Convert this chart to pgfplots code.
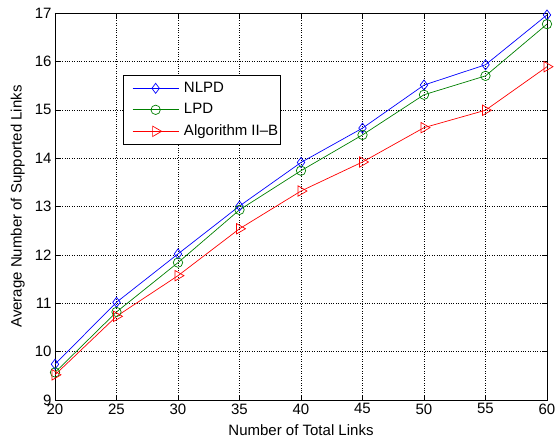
\documentclass[border=0pt]{standalone}
\usepackage{fontspec}
\setmainfont{Liberation Sans}
\usepackage{pgfplots}
\pgfplotsset{compat=1.18}
\definecolor{mblue}{rgb}{0,0,1}
\definecolor{mgreen}{rgb}{0,0.5,0}
\definecolor{mred}{rgb}{1,0,0}
\newcommand{\fs}{\fontsize{15}{18}\selectfont}
\begin{document}
\begin{tikzpicture}
\begin{axis}[
  scale only axis,
  width=492pt, height=387pt,
  xmin=20, xmax=60, ymin=9, ymax=17,
  xtick={20,25,...,60}, ytick={9,...,17},
  grid=major,
  major grid style={black, dotted, line width=0.5pt},
  tick align=inside,
  tick style={black, line width=0.5pt},
  major tick length=5pt,
  axis line style={black, line width=0.8pt},
  xlabel={Number of Total Links},
  ylabel={Average Number of Supported Links},
  tick label style={font=\fs},
  label style={font=\fs},
  /pgf/number format/assume math mode=true,
  xlabel style={at={(axis description cs:0.5,-0.062)}, anchor=north, inner sep=0pt},
  ylabel style={at={(axis description cs:-0.061,0.5)}, anchor=south, inner sep=0pt},
  legend style={at={(0.138,0.84)}, anchor=north west, font=\fs,
    nodes={inner xsep=0pt, inner ysep=2pt, text height=11pt, text depth=3.5pt},
    draw=black, line width=0.8pt, inner xsep=2pt, inner ysep=3.75pt,
    row sep=3pt, column sep=5pt, cells={anchor=west}},
  legend image code/.code={
    \path (0pt,0pt);
    \draw[mark repeat=2,mark phase=2] plot coordinates {(7pt,0pt) (30pt,0pt) (53pt,0pt)};
  },
]
\addplot[color=mblue, line width=0.7pt, mark=diamond, mark size=5pt, mark options={solid, line width=0.7pt}]
  coordinates {(20,9.74) (25,11.02) (30,12.02) (35,13.01) (40,13.91) (45,14.62) (50,15.51) (55,15.93) (60,16.96)};
\addlegendentry{\fs NLPD}
\addplot[color=mgreen, line width=0.7pt, mark=o, mark size=4.7pt, mark options={solid, line width=0.7pt}]
  coordinates {(20,9.57) (25,10.82) (30,11.84) (35,12.93) (40,13.74) (45,14.48) (50,15.31) (55,15.70) (60,16.77)};
\addlegendentry{\fs LPD}
\addplot[color=mred, line width=0.7pt, mark=triangle, mark size=6pt, mark options={solid, rotate=-90, line width=0.7pt}]
  coordinates {(20,9.52) (25,10.73) (30,11.57) (35,12.54) (40,13.32) (45,13.92) (50,14.63) (55,14.99) (60,15.89)};
\addlegendentry{\fs Algorithm II--B}
\end{axis}
\pgfresetboundingbox
\path[use as bounding box] (current axis.south west) ++(-55pt,-40pt) rectangle ++(555pt,440pt);
\end{tikzpicture}
\end{document}
